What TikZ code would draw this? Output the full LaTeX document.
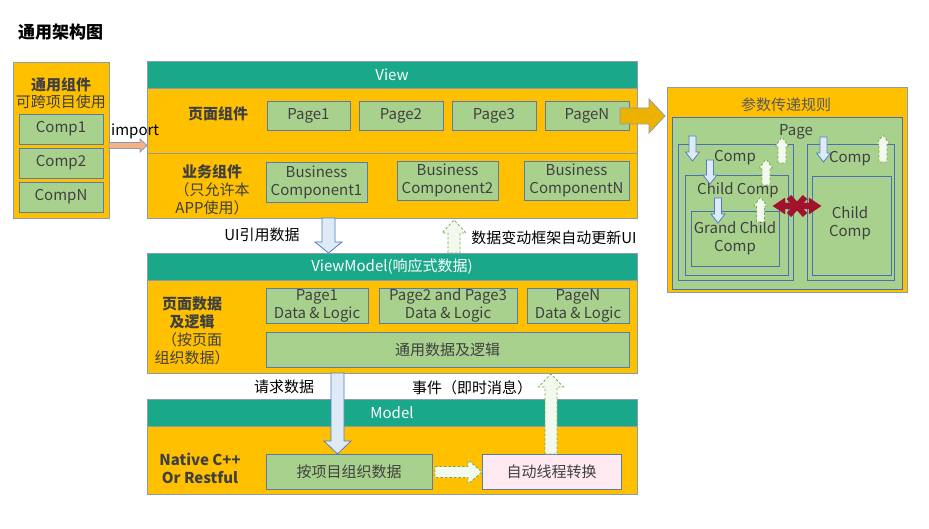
\documentclass[tikz,border=0pt]{standalone}
\usepackage{fontspec}
\setmainfont{Noto Sans CJK SC}
\definecolor{ylw}{HTML}{FFC000}
\definecolor{tealh}{HTML}{1AA88A}
\definecolor{grn}{HTML}{A9D18E}
\definecolor{bdr}{HTML}{5E7CA3}
\definecolor{pbdr}{HTML}{8C9BB0}
\definecolor{txt}{HTML}{404040}
\definecolor{lblue}{HTML}{DEEBF7}
\definecolor{bblue}{HTML}{4F7FC0}
\definecolor{dfill}{HTML}{F4F9F0}
\definecolor{dgreen}{HTML}{70AD47}
\definecolor{pinkb}{HTML}{FDE9EF}
\definecolor{salmon}{HTML}{F4B183}
\definecolor{darkred}{HTML}{A0132A}
\definecolor{nblue}{HTML}{4A6FB5}
\definecolor{yarrow}{HTML}{EDB100}
% #1 style, #2 x, #3 tail y, #4 tip y, #5 shaft half, #6 head half, #7 head base y
\newcommand{\vArrow}[7]{\draw[#1] ({#2-#5},#3) -- ({#2-#5},#7) -- ({#2-#6},#7) -- (#2,#4) -- ({#2+#6},#7) -- ({#2+#5},#7) -- ({#2+#5},#3) -- cycle;}
% #1 style, #2 y, #3 tail x, #4 tip x, #5 shaft half, #6 head half, #7 head base x
\newcommand{\hArrow}[7]{\draw[#1] (#3,{#2-#5}) -- (#7,{#2-#5}) -- (#7,{#2-#6}) -- (#4,#2) -- (#7,{#2+#6}) -- (#7,{#2+#5}) -- (#3,{#2+#5}) -- cycle;}
\tikzset{
  sz/.style 2 args={minimum width=#1pt, minimum height=#2pt},
  fnt/.style={font=\fontsize{15}{18}\selectfont},
  panel/.style={draw=pbdr, line width=0.8pt, fill=ylw, inner sep=0pt},
  header/.style={draw=pbdr, line width=0.8pt, fill=tealh, text=white, inner sep=0pt, fnt},
  gbox/.style={draw=bdr, line width=0.8pt, fill=grn, text=txt, inner sep=0pt, align=center, fnt},
  pbox/.style={gbox, fill=pinkb},
  nest/.style={draw=nblue, line width=0.8pt, fill=grn, inner sep=0pt},
  lbl/.style={text=txt, inner sep=0pt, align=center, fnt},
  blbl/.style={lbl, font=\fontsize{15}{18}\selectfont\bfseries},
  plain/.style={text=black, inner sep=0pt, align=center, fnt},
  bluearrow/.style={draw=bblue, line width=0.8pt, fill=lblue},
  dasharrow/.style={draw=dgreen, line width=0.8pt, fill=dfill, dashed, dash pattern=on 2.5pt off 2pt},
}
\begin{document}
\begin{tikzpicture}[x=1pt,y=-1pt]
\useasboundingbox[fill=white] (0,0) rectangle (929,529);

% title
\node[plain, font=\fontsize{17}{20}\selectfont\bfseries, anchor=west] (title) at (18,32) {通用架构图};

% left common components box
\node[panel, sz={96}{156}] (lbox) at (61,140) {};
\node[blbl] (lt1) at (61,85) {通用组件};
\node[lbl] (lt2) at (61,102) {可跨项目使用};
\node[gbox, sz={84}{30}] (c1) at (61,129) {Comp1};
\node[gbox, sz={84}{30}] (c2) at (61,163) {Comp2};
\node[gbox, sz={84}{30}] (cn) at (61,197) {CompN};

% View panel
\node[panel, sz={490}{130}] (viewb) at (392,153) {};
\node[header, sz={490}{27}] (viewh) at (392,74.5) {View};
\draw[pbdr, line width=0.8pt] (viewb.west |- 0,153) -- (viewb.east |- 0,153);
\node[blbl] (pglbl) at (218,114) {页面组件};
\node[gbox, sz={83}{29}] (p1) at (308.5,115.5) {Page1};
\node[gbox, sz={84}{29}] (p2) at (401,115.5) {Page2};
\node[gbox, sz={84}{29}] (p3) at (494,115.5) {Page3};
\node[gbox, sz={84}{29}] (pn) at (587,115.5) {PageN};
\node[lbl] (bzlbl) at (212,189.5) {\textbf{业务组件}\\（只允许本\\APP使用）};
\node[gbox, sz={101}{40}] (b1) at (316.5,182) {Business\\Component1};
\node[gbox, sz={101}{39}] (b2) at (447.5,180.5) {Business\\Component2};
\node[gbox, sz={105}{39}] (bn) at (576.5,180.5) {Business\\ComponentN};

% import arrow
\hArrow{draw=pbdr, line width=0.8pt, fill=salmon}{145.5}{109}{147}{3}{6.5}{140}
\node[plain, anchor=west] (imp) at (111,131) {import};

% yellow arrow to right box
\hArrow{draw=pbdr, line width=0.8pt, fill=yarrow}{116}{620}{665}{8}{17}{649}

% right box
\node[panel, sz={240}{205}] (rbox) at (787,189.5) {};
\node[text=black!65, inner sep=0pt, fnt] (rtitle) at (786,105) {参数传递规则};
\node[nest, sz={230}{172}] (rg) at (787,203) {};
\node[nest, sz={115}{136}] (lc) at (735.5,212) {};
\node[nest, sz={103}{100}] (lcc) at (736.5,225) {};
\node[nest, sz={88}{55}] (lgc) at (735,238.5) {};
\node[nest, sz={87}{136}] (rc) at (850.5,212) {};
\node[nest, sz={79}{99}] (rcc) at (851.5,225.5) {};
\node[lbl] (tpage) at (796,132) {Page};
\node[lbl] (tcomp1) at (735,158) {Comp};
\node[lbl] (tchild1) at (738,190.5) {Child Comp};
\node[lbl] (tgc) at (735,238) {Grand Child\\Comp};
\node[lbl] (tcomp2) at (850,159) {Comp};
\node[lbl] (tchild2) at (850,223.5) {Child\\Comp};
% blue down arrows
\vArrow{bluearrow}{692.5}{136}{161}{3.5}{7}{152}
\vArrow{bluearrow}{710}{160}{184}{3.5}{7}{175}
\vArrow{bluearrow}{718}{198}{223}{3.5}{7}{214}
\vArrow{bluearrow}{823.5}{137}{162}{3.5}{7}{153}
% dashed up arrows
\vArrow{dasharrow}{782}{163}{137}{4}{6.5}{146}
\vArrow{dasharrow}{766}{185}{159}{4}{6.5}{168}
\vArrow{dasharrow}{760.5}{222}{197}{4}{6.5}{206}
\vArrow{dasharrow}{883}{162}{135}{4}{6.5}{144}
% red double arrow with cross
\draw[darkred, fill=darkred] (773,206) -- (785,198) -- (785,203) -- (809,203) -- (809,198) -- (821,206) -- (809,214) -- (809,209) -- (785,209) -- (785,214) -- cycle;
\draw[darkred, line width=6pt] (789,197) -- (805,215) (789,215) -- (805,197);

% between View and ViewModel
\vArrow{bluearrow}{328.5}{218}{253}{6.5}{13.5}{242}
\node[plain] (uiref) at (262,235) {UI引用数据};
\vArrow{dasharrow}{454}{253}{220}{6}{12}{233}
\node[plain] (autoup) at (554,238) {数据变动框架自动更新UI};

% ViewModel panel
\node[panel, sz={490}{93}] (vmb) at (392,326.5) {};
\node[header, sz={490}{27}] (vmh) at (392,266.5) {ViewModel(响应式数据)};
\node[lbl] (vmlbl) at (192,331) {\textbf{页面数据}\\\textbf{及逻辑}\\（按页面\\组织数据）};
\node[gbox, sz={102}{35}] (d1) at (317,305.5) {Page1\\Data \& Logic};
\node[gbox, sz={138}{35}] (d23) at (448,305.5) {Page2 and Page3\\Data \& Logic};
\node[gbox, sz={102}{35}] (dn) at (578,305.5) {PageN\\Data \& Logic};
\node[gbox, sz={363}{35}] (dc) at (447.5,349.5) {通用数据及逻辑};

% Model panel
\node[panel, sz={490}{68}] (mb) at (392,460) {};
\node[header, sz={490}{27}] (mh) at (392,412.5) {Model};
\node[blbl] (mlbl) at (200,468) {Native C++\\Or Restful};
\node[gbox, sz={166}{35}] (m1) at (349,471.5) {按项目组织数据};
\node[pbox, sz={139}{35}] (m2) at (551.5,471.5) {自动线程转换};
\hArrow{dasharrow}{472}{435}{482}{5.5}{12}{468}

% between ViewModel and Model
\vArrow{bluearrow}{337.5}{373}{454}{6.5}{13.5}{441}
\node[plain] (req) at (284,387) {请求数据};
\vArrow{dasharrow}{551}{454}{374}{6}{12.5}{387}
\node[plain] (evt) at (472,388) {事件（即时消息）};
\end{tikzpicture}
\end{document}
